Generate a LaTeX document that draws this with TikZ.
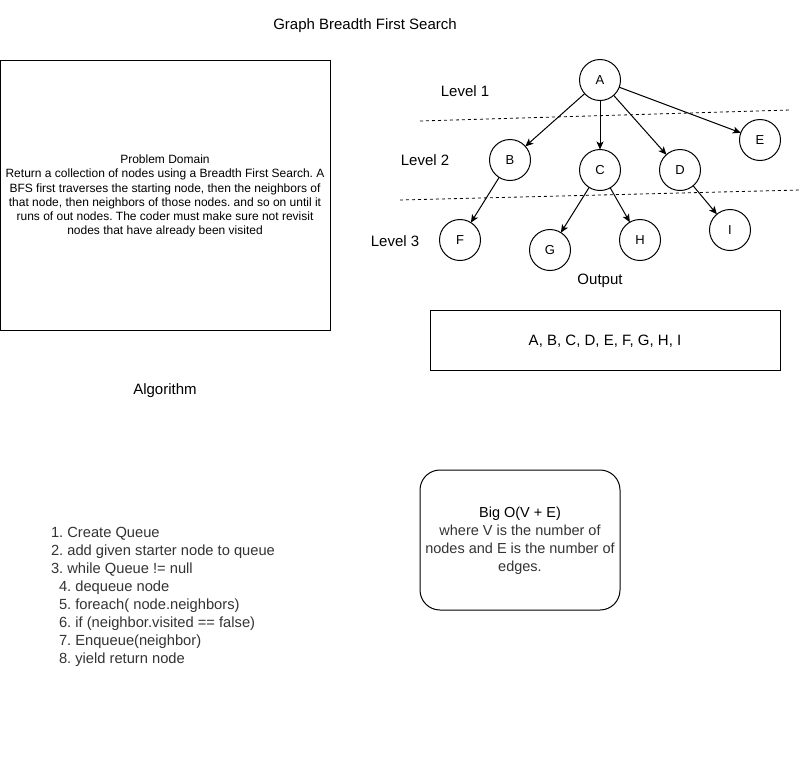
\documentclass[tikz,border=0pt]{standalone}
\usepackage{fontspec}
\setmainfont{Liberation Sans}
\usetikzlibrary{arrows.meta}
\definecolor{txtgray}{RGB}{51,51,51}
\frenchspacing
\begin{document}
\begin{tikzpicture}[x=1pt,y=-1pt,
  every node/.style={inner sep=0pt,outer sep=0pt},
  vert/.style={draw,circle,minimum size=41pt,line width=1pt,font=\fontsize{13}{15}\selectfont},
  edge/.style={line width=1pt,-{Stealth[length=8pt,width=7pt,inset=2pt]}},
  lvl/.style={font=\fontsize{15}{18}\selectfont},
  box/.style={draw,line width=1pt},
  sepline/.style={dashed,line width=0.8pt,dash pattern=on 3pt off 3pt}
]
\useasboundingbox (0,0) rectangle (802,761);
\node[font=\fontsize{15}{18}\selectfont] (title) at (365,26) {Graph Breadth First Search};

% problem domain
\node[box,minimum width=330pt,minimum height=270pt,anchor=north west] (pd) at (0,60) {};
\node[align=center,font=\fontsize{12}{14.2}\selectfont] (pdtext) at (165,196) {Problem Domain\\Return a collection of nodes using a Breadth First Search. A\\BFS first traverses the starting node, then the neighbors of\\that node, then neighbors of those nodes. and so on until it\\runs of out nodes. The coder must make sure not revisit\\nodes that have already been visited};

% graph
\node[vert] (A) at (600,80) {A};
\node[vert] (B) at (510,160) {B};
\node[vert] (C) at (600,170) {C};
\node[vert] (D) at (680,170) {D};
\node[vert] (E) at (760,140) {E};
\node[vert] (F) at (460,240) {F};
\node[vert] (G) at (550,250) {G};
\node[vert] (H) at (640,240) {H};
\node[vert] (I) at (730,230) {I};
\draw[edge] (A) -- (B);
\draw[edge] (A) -- (C);
\draw[edge] (A) -- (D);
\draw[edge] (A) -- (E);
\draw[edge] (B) -- (F);
\draw[edge] (C) -- (G);
\draw[edge] (C) -- (H);
\draw[edge] (D) -- (I);

\coordinate (s1a) at (420,121);
\coordinate (s1b) at (790,110);
\coordinate (s2a) at (400,200);
\coordinate (s2b) at (800,190);
\draw[sepline] (s1a) -- (s1b);
\draw[sepline] (s2a) -- (s2b);

\node[lvl] (l1) at (465,91) {Level 1};
\node[lvl] (l2) at (425,160) {Level 2};
\node[lvl] (l3) at (395,241) {Level 3};

% output
\node[lvl] (outlbl) at (600,281) {Output};
\node[box,minimum width=350pt,minimum height=60pt,anchor=north west] (out) at (430,310) {};
\node[lvl] (outtext) at (605,341) {A, B, C, D, E, F, G, H, I};

% algorithm
\node[lvl] (alglbl) at (165,391) {Algorithm};
\node[align=left,anchor=north west,text=txtgray,font=\fontsize{14.7}{18}\selectfont] (alg) at (51,527) {1. Create Queue\\2. add given starter node to queue\\3. while Queue != null\\\hspace*{8pt}4. dequeue node\\\hspace*{8pt}5. foreach( node.neighbors)\\\hspace*{8pt}6. if (neighbor.visited == false)\\\hspace*{8pt}7. Enqueue(neighbor)\\\hspace*{8pt}8. yield return node};

% big O
\node[box,rounded corners=20pt,minimum width=200pt,minimum height=140pt,anchor=north west] (bigo) at (420,470) {};
\node[align=center,text=txtgray,font=\fontsize{14.5}{18}\selectfont] (bigotext) at (520,541) {\textcolor{black}{Big O(V + E)}\\where V is the number of\\nodes and E is the number of\\edges.};
\end{tikzpicture}
\end{document}
